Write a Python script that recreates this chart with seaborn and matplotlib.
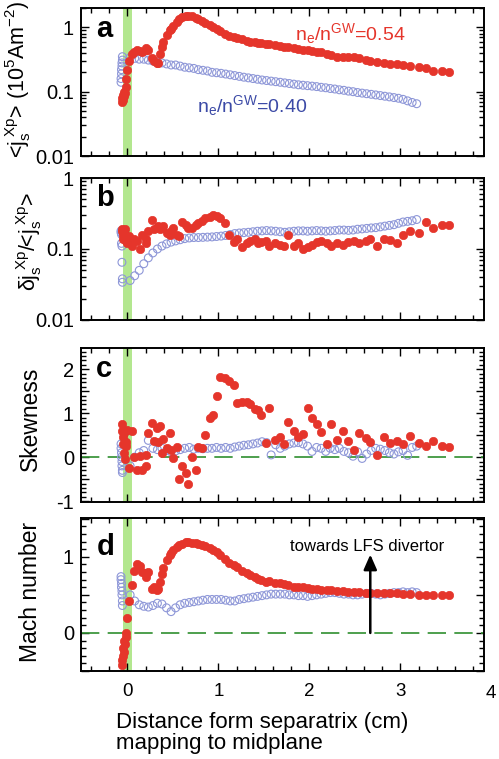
import matplotlib
matplotlib.use('Agg')
import matplotlib.pyplot as plt
from matplotlib.ticker import MultipleLocator, LogLocator, NullFormatter, FuncFormatter
import seaborn as sns
import pandas as pd

# ---------------- data ----------------
# red: n_e/n^GW = 0.54 (filled)
RED_X = [-0.06, -0.055, -0.05, -0.045, -0.04, -0.035, -0.03, -0.02, -0.01, 0.0,
         0.02, 0.05, 0.07, 0.11, 0.14, 0.16, 0.20, 0.21, 0.23, 0.27,
         0.29, 0.32, 0.34, 0.36, 0.38, 0.39, 0.43, 0.47, 0.48, 0.50,
         0.54, 0.57, 0.60, 0.64, 0.67, 0.71, 0.75, 0.78, 0.82, 0.85,
         0.91, 0.94, 0.98, 1.02, 1.07, 1.12, 1.17, 1.20, 1.26, 1.31,
         1.35, 1.40, 1.44, 1.47, 1.52, 1.56, 1.62, 1.68, 1.72, 1.77,
         1.83, 1.88, 1.93, 1.98, 2.03, 2.08, 2.13, 2.19, 2.24, 2.30,
         2.37, 2.43, 2.49, 2.55, 2.62, 2.67, 2.74, 2.82, 2.89, 2.96,
         3.03, 3.11, 3.20, 3.28, 3.36, 3.46, 3.53]
RED_JS = [0.07, 0.08, 0.09, 0.075, 0.085, 0.1, 0.095, 0.12, 0.16, 0.22,
          0.3, 0.38, 0.42, 0.45, 0.43, 0.41, 0.44, 0.47, 0.45, 0.33,
          0.3, 0.28, 0.28, 0.38, 0.5, 0.6, 0.75, 0.9, 0.95, 1.05,
          1.2, 1.35, 1.45, 1.5, 1.52, 1.48, 1.42, 1.35, 1.25, 1.18,
          1.08, 1.02, 0.95, 0.88, 0.8, 0.74, 0.7, 0.68, 0.65, 0.62,
          0.6, 0.59, 0.58, 0.57, 0.56, 0.55, 0.53, 0.52, 0.5, 0.49,
          0.47, 0.46, 0.45, 0.44, 0.43, 0.42, 0.41, 0.39, 0.37, 0.35,
          0.35, 0.34, 0.34, 0.33, 0.31, 0.3, 0.29, 0.28, 0.27, 0.27,
          0.26, 0.25, 0.24, 0.23, 0.21, 0.21, 0.2]
RED_DJ = [0.19, 0.18, 0.16, 0.14, 0.17, 0.15, 0.19, 0.13, 0.15, 0.12,
          0.15, 0.11, 0.14, 0.13, 0.1, 0.16, 0.12, 0.14, 0.18, 0.26,
          0.19, 0.2, 0.21, 0.19, 0.2, 0.21, 0.17, 0.16, 0.18, 0.2,
          0.16, 0.15, 0.24, 0.22, 0.2, 0.2, 0.22, 0.23, 0.25, 0.27,
          0.28, 0.3, 0.29, 0.27, 0.23, 0.16, 0.125, 0.14, 0.105, 0.12,
          0.13, 0.14, 0.12, 0.125, 0.13, 0.11, 0.12, 0.115, 0.11, 0.16,
          0.11, 0.12, 0.1, 0.105, 0.115, 0.125, 0.13, 0.12, 0.11, 0.12,
          0.115, 0.125, 0.13, 0.12, 0.13, 0.14, 0.11, 0.14, 0.135, 0.12,
          0.16, 0.18, 0.17, 0.24, 0.2, 0.22, 0.22]
RED_SK = [0.75, 0.6, 0.45, 0.3, 0.1, 0.55, -0.05, 0.35, 0.25, 0.62,
          -0.25, 0.6, 0.0, -0.3, 0.02, -0.3, -0.2, 0.05, 0.55, 0.77,
          0.37, 0.67, 0.35, 0.7, 0.1, 0.42, 0.2, 0.55, 0.17, -0.02,
          0.23, -0.5, -0.2, -0.35, -0.6, 0.0, -0.3, 0.22, 0.2, 0.5,
          0.88, 0.95, 1.38, 1.82, 1.8, 1.72, 1.63, 1.24, 1.26, 1.25,
          1.2, 1.1, 1.07, 0.95, 0.32, 1.12, 0.4, 0.45, 0.3, 0.8,
          0.6, 0.45, 0.52, 1.12, 0.9, 0.75, 0.58, 0.3, 0.75, 0.4,
          0.6, 0.37, 0.16, 0.55, 0.43, 0.35, 0.05, 0.45, 0.33, 0.36,
          0.3, 0.47, 0.33, 0.25, 0.37, 0.25, 0.23]
RED_M = [-0.42, -0.35, -0.3, -0.2, -0.1, -0.25, -0.15, -0.05, 0.0, 0.2,
         0.42, 0.63, 0.81, 0.9, 0.88, 0.8, 0.74, 0.79, 0.8, 0.58,
         0.6, 0.56, 0.58, 0.67, 0.78, 0.85, 0.96, 1.02, 1.05, 1.09,
         1.13, 1.16, 1.17, 1.19, 1.19, 1.18, 1.18, 1.17, 1.16, 1.14,
         1.11, 1.09, 1.06, 1.02, 0.97, 0.92, 0.89, 0.86, 0.82, 0.79,
         0.76, 0.73, 0.71, 0.7, 0.67, 0.68, 0.66, 0.65, 0.64, 0.63,
         0.61, 0.6, 0.6, 0.59, 0.58, 0.58, 0.57, 0.56, 0.56, 0.55,
         0.55, 0.54, 0.54, 0.54, 0.53, 0.53, 0.52, 0.52, 0.52, 0.52,
         0.51, 0.51, 0.5, 0.5, 0.5, 0.5, 0.5]

# blue: n_e/n^GW = 0.40 (open)
BLUE_X = [-0.07, -0.07, -0.065, -0.065, -0.06, -0.06, -0.055, -0.055,
          0.03, 0.08, 0.13, 0.18, 0.23, 0.28, 0.33, 0.38, 0.43, 0.48,
          0.53, 0.58, 0.63, 0.68, 0.73, 0.78, 0.83, 0.88, 0.93, 0.98,
          1.03, 1.08, 1.13, 1.18, 1.23, 1.28, 1.33, 1.38, 1.43, 1.48,
          1.53, 1.58, 1.63, 1.68, 1.73, 1.78, 1.83, 1.88, 1.93, 1.98,
          2.03, 2.08, 2.13, 2.18, 2.23, 2.28, 2.33, 2.38, 2.43, 2.48,
          2.53, 2.58, 2.63, 2.68, 2.73, 2.78, 2.83, 2.88, 2.93, 2.98,
          3.03, 3.08, 3.13, 3.18]
BLUE_JS = [0.14, 0.16, 0.19, 0.22, 0.25, 0.28, 0.31, 0.35,
           0.34, 0.33, 0.32, 0.32, 0.31, 0.30, 0.29, 0.28, 0.27, 0.26,
           0.26, 0.25, 0.24, 0.235, 0.23, 0.22, 0.215, 0.21, 0.20, 0.197,
           0.193, 0.188, 0.183, 0.178, 0.173, 0.168, 0.164, 0.16, 0.156, 0.152,
           0.149, 0.146, 0.143, 0.14, 0.137, 0.134, 0.131, 0.128, 0.126, 0.124,
           0.122, 0.12, 0.117, 0.115, 0.112, 0.11, 0.107, 0.105, 0.102, 0.10,
           0.097, 0.095, 0.093, 0.091, 0.089, 0.087, 0.085, 0.083, 0.081, 0.079,
           0.076, 0.072, 0.068, 0.065]
BLUE_DJ = [0.18, 0.17, 0.16, 0.12, 0.11, 0.065, 0.038, 0.034,
           0.036, 0.042, 0.05, 0.062, 0.075, 0.088, 0.1, 0.11, 0.118, 0.125,
           0.13, 0.135, 0.14, 0.143, 0.145, 0.145, 0.146, 0.147, 0.148, 0.15,
           0.152, 0.155, 0.16, 0.165, 0.168, 0.17, 0.172, 0.175, 0.178, 0.18,
           0.182, 0.18, 0.178, 0.175, 0.172, 0.175, 0.178, 0.18, 0.18, 0.178,
           0.18, 0.182, 0.18, 0.178, 0.18, 0.182, 0.185, 0.185, 0.183, 0.185,
           0.19, 0.192, 0.195, 0.198, 0.2, 0.205, 0.21, 0.215, 0.22, 0.23,
           0.24, 0.245, 0.25, 0.26]
BLUE_SK = [0.3, 0.2, 0.1, 0.0, -0.1, -0.2, -0.3, -0.35,
           -0.2, 0.0, 0.1, 0.15, 0.38, 0.2, 0.17, 0.2, 0.15, 0.12,
           0.14, 0.17, 0.2, 0.22, 0.18, 0.2, 0.19, 0.2, 0.2, 0.22,
           0.2, 0.22, 0.2, 0.23, 0.25, 0.27, 0.28, 0.3, 0.32, 0.35,
           0.33, 0.05, 0.28, 0.2, 0.25, 0.3, 0.32, 0.33, 0.3, 0.25,
           0.13, 0.22, 0.2, 0.13, 0.2, 0.17, 0.2, 0.13, 0.1, 0.02,
           0.12, -0.03, 0.07, 0.15, 0.2, 0.18, 0.15, 0.1, 0.07, 0.12,
           0.15, 0.04, 0.22, 0.25]
BLUE_M = [0.74, 0.7, 0.65, 0.6, 0.55, 0.5, 0.42, 0.36,
          0.5, 0.42, 0.37, 0.35, 0.34, 0.36, 0.39, 0.38, 0.33, 0.28,
          0.33, 0.37, 0.39, 0.4, 0.41, 0.42, 0.43, 0.44, 0.44, 0.44,
          0.44, 0.43, 0.42, 0.42, 0.44, 0.45, 0.46, 0.47, 0.48, 0.49,
          0.5, 0.51, 0.51, 0.51, 0.51, 0.5, 0.5, 0.49, 0.49, 0.48,
          0.49, 0.5, 0.51, 0.52, 0.53, 0.53, 0.52, 0.51, 0.51, 0.5,
          0.5, 0.51, 0.52, 0.52, 0.51, 0.5, 0.51, 0.52, 0.53, 0.53,
          0.54, 0.53, 0.54, 0.53]

XTICKS = [0, 1, 2, 3, 4]
PANEL_LETTERS = ['a', 'b', 'c', 'd']
YLABELS = [r'<$j_s^{\ Xp}$> (10$^5$Am$^{-2}$)',
           r'δ$j_s^{\ Xp}$/<$j_s^{\ Xp}$>',
           'Skewness',
           'Mach number']
RED_LABEL = r'n$_e$/n$^{GW}$=0.54'
BLUE_LABEL = r'n$_e$/n$^{GW}$=0.40'
ARROW_TEXT = 'towards LFS divertor'
XLABEL = 'Distance form separatrix (cm)\nmapping to midplane'

red_df = pd.DataFrame({'x': RED_X, 'js': RED_JS, 'dj': RED_DJ, 'sk': RED_SK, 'm': RED_M})
blue_df = pd.DataFrame({'x': BLUE_X, 'js': BLUE_JS, 'dj': BLUE_DJ, 'sk': BLUE_SK, 'm': BLUE_M})

# ---------------- style ----------------
sns.set_theme(style='ticks')
plt.rcParams['font.family'] = ['Liberation Sans', 'DejaVu Sans']
plt.rcParams.update({
    'mathtext.fontset': 'custom',
    'mathtext.rm': 'Liberation Sans',
    'mathtext.it': 'Liberation Sans:italic',
    'mathtext.bf': 'Liberation Sans:bold',
    'mathtext.default': 'regular',
    'axes.edgecolor': 'black',
    'xtick.color': 'black',
    'ytick.color': 'black',
    'text.color': 'black',
    'axes.labelcolor': 'black',
})

RED = '#e5352b'
BLUE_EDGE = '#8e97d8'
BLUE_TXT = '#3c4aa6'
GREEN_BAND = '#b3e78f'
GREEN_LINE = '#2f8f2f'

W, H = 499, 759
fig = plt.figure(figsize=(W / 100, H / 100), dpi=100)

left = 81 / W
width = (484 - 81) / W
boxes = [(8, 156), (178, 320), (348, 502), (518, 671)]
axes = []
for top, bot in boxes:
    ax = fig.add_axes([left, 1 - bot / H, width, (bot - top) / H])
    axes.append(ax)

cols = ['js', 'dj', 'sk', 'm']
for i, ax in enumerate(axes):
    ax.axvspan(-0.044, 0.048, color=GREEN_BAND, lw=0, zorder=0)
    sns.scatterplot(data=blue_df, x='x', y=cols[i], ax=ax, color=BLUE_EDGE,
                    facecolor='none', edgecolor=BLUE_EDGE, s=32, linewidth=0.8,
                    zorder=3)
    sns.scatterplot(data=red_df, x='x', y=cols[i], ax=ax, color=RED,
                    edgecolor=RED, s=36, linewidth=0.5, zorder=4)
    ax.set_xlim(-0.51, 3.92)
    ax.xaxis.set_major_locator(MultipleLocator(1))
    ax.xaxis.set_minor_locator(MultipleLocator(0.2))
    ax.tick_params(which='both', direction='in', top=True, right=True,
                   width=1.0, colors='black')
    ax.tick_params(which='major', length=6)
    ax.tick_params(which='minor', length=3.5)
    ax.tick_params(axis='y', labelsize=14.5, pad=5)
    ax.tick_params(axis='x', labelsize=13.5, pad=9)
    for sp in ax.spines.values():
        sp.set_linewidth(1.4)
        sp.set_color('black')
    ax.set_xlabel('')
    ax.set_ylabel(YLABELS[i], fontsize=16.5 if i >= 2 else 15.5)
    ax.text(0.038, 0.955 if i < 3 else 0.905, PANEL_LETTERS[i], transform=ax.transAxes,
            fontsize=21, fontweight='bold', va='top', ha='left')
    if i < 3:
        ax.tick_params(axis='x', labelbottom=False)

# log panels
for ax in axes[:2]:
    ax.set_yscale('log')
    ax.set_yticks([0.01, 0.1, 1], ['0.01', '0.1', '1'])
    ax.yaxis.set_minor_locator(LogLocator(base=10, subs=range(2, 10)))
    ax.yaxis.set_minor_formatter(NullFormatter())
axes[0].set_ylim(0.01, 2.0)
axes[1].set_ylim(0.01, 1.0)

int_fmt = FuncFormatter(lambda v, p: f'{v:.0f}' if abs(v - round(v)) < 1e-6 else '')
axes[2].set_ylim(-1.02, 2.48)
axes[2].yaxis.set_major_locator(MultipleLocator(0.5))
axes[2].yaxis.set_major_formatter(int_fmt)
axes[2].yaxis.set_minor_locator(MultipleLocator(0.1))
axes[3].set_ylim(-0.5, 1.51)
axes[3].yaxis.set_major_locator(MultipleLocator(0.5))
axes[3].yaxis.set_major_formatter(int_fmt)
axes[3].yaxis.set_minor_locator(MultipleLocator(0.1))

for ax in axes[2:]:
    ax.axhline(0, color=GREEN_LINE, lw=1.2, ls=(0, (11, 5)), zorder=2)

axes[3].set_xticks(XTICKS[:4], [str(t) for t in XTICKS[:4]])
axes[3].text(XTICKS[4], -0.145, str(XTICKS[4]), fontsize=13.5,
             transform=axes[3].get_xaxis_transform(), ha='center', va='center',
             clip_on=False)

# y label positions
axes[0].yaxis.set_label_coords(-0.118, 0.52)
axes[1].yaxis.set_label_coords(-0.092, 0.55)
axes[2].yaxis.set_label_coords(-0.097, 0.54)
axes[3].yaxis.set_label_coords(-0.097, 0.52)

# annotations
axes[0].text(1.84, 0.63, RED_LABEL, color=RED, fontsize=14, ha='left', va='baseline')
axes[0].text(0.77, 0.049, BLUE_LABEL, color=BLUE_TXT, fontsize=14, ha='left', va='baseline')
axes[3].text(1.79, 1.08, ARROW_TEXT, fontsize=12, ha='left', va='baseline')
axes[3].annotate('', xy=(2.67, 1.03), xytext=(2.67, 0.0),
                 arrowprops=dict(arrowstyle='-|>,head_length=0.5,head_width=0.22',
                                 color='black', lw=1.8, mutation_scale=18,
                                 shrinkA=0, shrinkB=0), zorder=6)

fig.text(116 / W, 1 - 712 / H, XLABEL, fontsize=16, ha='left', va='top',
         linespacing=0.98)

fig.savefig('out.png', dpi=100)
